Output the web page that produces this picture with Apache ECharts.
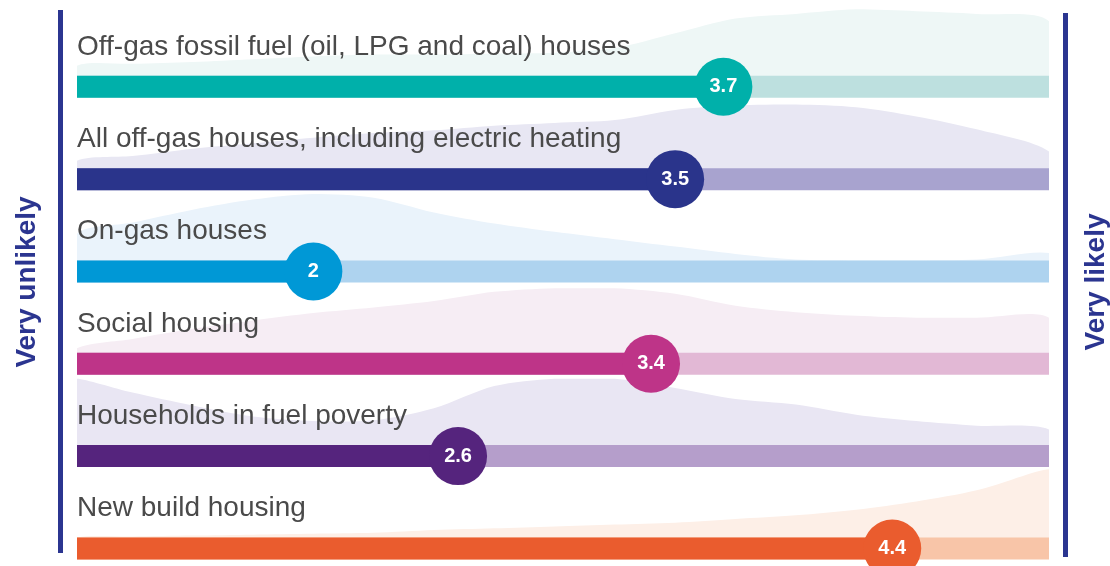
<!DOCTYPE html>
<html>
<head>
<meta charset="utf-8">
<title>Likelihood by housing type</title>
<script src="https://cdn.jsdelivr.net/npm/echarts@6/dist/echarts.min.js"></script>
<style>
  html, body { margin: 0; padding: 0; background: #fff; }
  #chart { width: 1110px; height: 566px; }
</style>
</head>
<body>
<div id="chart"></div>
<script>
// rows, top to bottom
const categories = [
  'Off-gas fossil fuel (oil, LPG and coal) houses',
  'All off-gas houses, including electric heating',
  'On-gas houses',
  'Social housing',
  'Households in fuel poverty',
  'New build housing'
];
// average score on the 1 (very unlikely) .. 5 (very likely) scale
const scores = [3.7, 3.5, 2, 3.4, 2.6, 4.4];

// spread of responses behind each bar, sampled along the scale (height in row units)
const spreadX = [1.02, 1.25, 1.5, 1.75, 2.0, 2.25, 2.5, 2.75, 3.0, 3.25, 3.5, 3.75, 4.0, 4.25, 4.5, 4.75, 5.05];
const spreadOffGasFossil = [0.11, 0.13, 0.15, 0.18, 0.21, 0.23, 0.23, 0.24, 0.25, 0.30, 0.46, 0.62, 0.67, 0.72, 0.70, 0.67, 0.59];
const spreadAllOffGas    = [0.08, 0.13, 0.21, 0.27, 0.33, 0.38, 0.41, 0.46, 0.49, 0.52, 0.63, 0.68, 0.69, 0.66, 0.56, 0.42, 0.18];
const spreadOnGas        = [0.29, 0.41, 0.55, 0.66, 0.72, 0.68, 0.52, 0.40, 0.31, 0.23, 0.15, 0.07, 0.01, 0.00, 0.00, 0.01, 0.08];
const spreadSocial       = [0.05, 0.15, 0.26, 0.35, 0.43, 0.49, 0.56, 0.66, 0.70, 0.70, 0.64, 0.51, 0.44, 0.40, 0.38, 0.38, 0.38];
const spreadFuelPoverty  = [0.72, 0.57, 0.43, 0.31, 0.26, 0.27, 0.40, 0.64, 0.72, 0.72, 0.62, 0.50, 0.44, 0.33, 0.26, 0.21, 0.17];
const spreadNewBuild     = [0.00, 0.01, 0.02, 0.03, 0.04, 0.05, 0.08, 0.10, 0.12, 0.14, 0.16, 0.20, 0.24, 0.30, 0.39, 0.51, 0.74];
const spreads = [spreadOffGasFossil, spreadAllOffGas, spreadOnGas, spreadSocial, spreadFuelPoverty, spreadNewBuild];

const sideLabels = ['Very unlikely', 'Very likely'];

const mainColors   = ['#00b0aa', '#2a348b', '#0098d6', '#be3488', '#55247d', '#ea5c2e'];
const trackColors  = ['#bde0df', '#a8a3cf', '#aed3ef', '#e2b8d5', '#b59ecb', '#f8c5a8'];
const spreadColors = ['#eef7f6', '#e8e7f3', '#eaf3fb', '#f6edf4', '#e9e6f3', '#fdefe7'];
const navy = '#2b3590';

const scaleMin = 1.02, scaleMax = 5.05;
const halfBar = 11; // half of bar thickness, px

let myChart = echarts.init(document.getElementById('chart'));

// light shape of the answer spread, sitting on the bar
function renderSpread(params, api) {
  let row = api.value(0);
  let h = spreads[row];
  let points = [];
  for (let i = 0; i < spreadX.length; i++) {
    let p = api.coord([spreadX[i], row - h[i]]);
    points.push([p[0], p[1] - halfBar]);
  }
  let end = api.coord([scaleMax, row]);
  let start = api.coord([scaleMin, row]);
  points.push([end[0], end[1]]);
  points.push([start[0], start[1]]);
  // keep smoothing inside the shape's box
  let xs = points.map(p => p[0]), ys = points.map(p => p[1]);
  return {
    type: 'polygon',
    shape: {
      points: points,
      smooth: 0.3,
      smoothConstraint: [[Math.min(...xs), Math.min(...ys)], [Math.max(...xs), Math.max(...ys)]]
    },
    style: { fill: spreadColors[row] },
    silent: true
  };
}

// track, filled part and row title
function renderBar(params, api) {
  let row = api.value(0);
  let start = api.coord([scaleMin, row]);
  let end = api.coord([scaleMax, row]);
  let fill = api.coord([api.value(1), row]);
  return {
    type: 'group',
    children: [
      { type: 'rect', shape: { x: start[0], y: start[1] - halfBar, width: end[0] - start[0], height: halfBar * 2 }, style: { fill: trackColors[row] } },
      { type: 'rect', shape: { x: start[0], y: start[1] - halfBar, width: fill[0] - start[0], height: halfBar * 2 }, style: { fill: mainColors[row] } },
      {
        type: 'text',
        x: start[0], y: start[1] - halfBar - 29,
        style: {
          text: categories[row], fill: '#4a4a4a',
          fontSize: 28, fontFamily: '"Liberation Sans", Arial, sans-serif',
          align: 'left', verticalAlign: 'middle'
        }
      }
    ]
  };
}

let option = {
  animation: false,
  grid: { left: 77, right: 61, top: 0, bottom: 0 },
  xAxis: { type: 'value', min: scaleMin, max: scaleMax, show: false },
  yAxis: { type: 'value', min: -0.94, max: 5.19, inverse: true, show: false },
  graphic: [
    { type: 'rect', left: 58, top: 10, shape: { width: 5, height: 543 }, style: { fill: navy } },
    { type: 'rect', left: 1063, top: 13, shape: { width: 5, height: 544 }, style: { fill: navy } },
    {
      type: 'text', x: 27, y: 282, rotation: Math.PI / 2,
      style: { text: sideLabels[0], fill: navy, font: 'bold 28px "Liberation Sans", Arial, sans-serif', align: 'center', verticalAlign: 'middle' }
    },
    {
      type: 'text', x: 1096, y: 282, rotation: Math.PI / 2,
      style: { text: sideLabels[1], fill: navy, font: 'bold 28px "Liberation Sans", Arial, sans-serif', align: 'center', verticalAlign: 'middle' }
    }
  ],
  series: [
    {
      type: 'custom',
      z: 1,
      renderItem: renderSpread,
      encode: { x: 1, y: 0 },
      data: categories.map((c, i) => [i, scaleMin])
    },
    {
      type: 'custom',
      z: 2,
      renderItem: renderBar,
      encode: { x: 1, y: 0 },
      data: scores.map((s, i) => [i, s])
    },
    {
      type: 'scatter',
      z: 3,
      symbol: 'circle',
      symbolSize: 58,
      silent: true,
      data: scores.map((s, i) => ({ value: [s, i], itemStyle: { color: mainColors[i], opacity: 1 } })),
      label: {
        show: true,
        position: 'inside',
        formatter: p => p.value[0],
        color: '#fff',
        fontSize: 20,
        fontWeight: 'bold',
        fontFamily: '"Liberation Sans", Arial, sans-serif'
      },
      emphasis: { disabled: true }
    }
  ]
};

myChart.setOption(option);
window.addEventListener('resize', () => {
  myChart.resize();
});
</script>
</body>
</html>
